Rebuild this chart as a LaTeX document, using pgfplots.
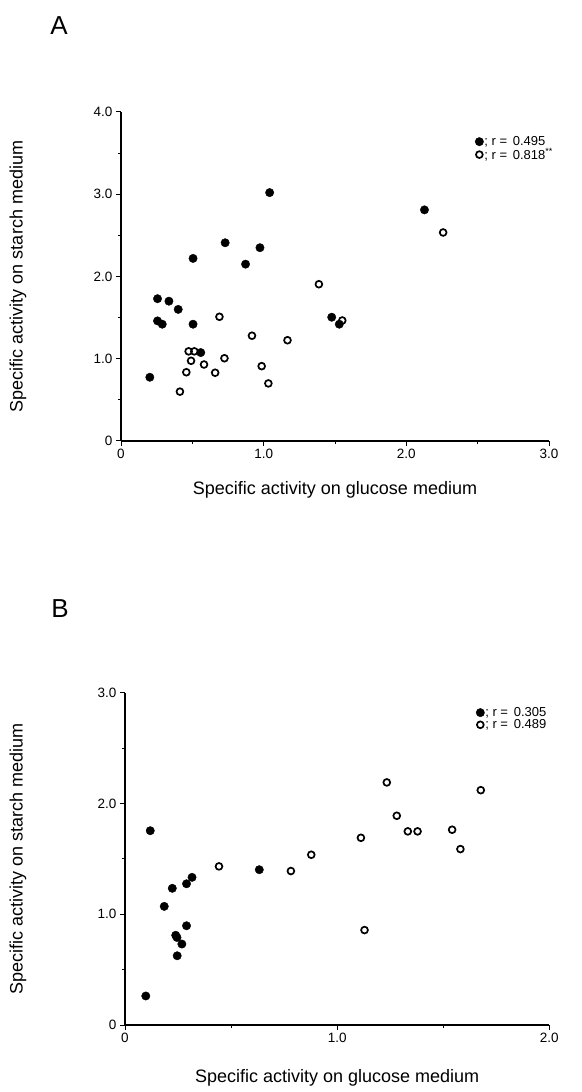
\documentclass[border=0pt]{standalone}
\usepackage{fontspec}
\setmainfont{Liberation Sans}
\usepackage{pgfplots}
\pgfplotsset{compat=1.18}

\pgfplotsset{
  panel/.style={
    scale only axis,
    axis x line=bottom, axis y line=left,
    axis line style={-, line width=1.2pt},
    tick align=outside,
    major tick length=5pt, minor tick length=3pt,
    every tick/.style={black, line width=1pt},
    minor tick num=1,
    xmin=0, ymin=0,
    tick label style={font=\fontsize{13.5}{13.5}\selectfont},
    label style={font=\fontsize{18}{18}\selectfont},
    /pgf/number format/assume math mode=true,
    clip=false,
    legend style={draw=none, fill=none, anchor=north west,
      font=\fontsize{13}{13}\selectfont, row sep=0pt,
      nodes={inner sep=0.8pt}},
    legend cell align=left,
  },
  solidpt/.style={only marks, mark=*, mark size=4.2pt,
    mark options={fill=black, draw=black}},
  openpt/.style={only marks, mark=o, mark size=3.4pt,
    mark options={line width=1.7pt, fill=white}},
}

\begin{document}
\begin{tikzpicture}
\useasboundingbox (0,0) rectangle (581pt,1092pt);

\node[font=\fontsize{26}{26}\selectfont] at (59pt,1066pt) {A};
\node[font=\fontsize{26}{26}\selectfont] at (60pt,483pt) {B};

% panel A
\begin{axis}[panel,
  at={(121pt,651pt)}, anchor=south west,
  width=428pt, height=329pt,
  xmax=3, ymax=4,
  xtick={0,1,2,3}, xticklabels={0,1.0,2.0,3.0},
  ytick={0,1,2,3,4}, yticklabels={0,1.0,2.0,3.0,4.0},
  xlabel={Specific activity on glucose medium},
  ylabel={Specific activity on starch medium},
  xlabel style={at={(axis description cs:0.5,-0.149)}, anchor=center},
  ylabel style={at={(axis description cs:-0.241,0.5)}, anchor=center, rotate=0},
  legend style={at={(axis description cs:0.82,0.935)}},
]
\addplot[solidpt] coordinates {
  (1.042,3.02) (0.730,2.41) (0.974,2.35) (0.505,2.22) (0.873,2.15)
  (0.256,1.73) (0.336,1.70) (0.401,1.60) (0.256,1.46) (0.289,1.42)
  (0.505,1.42) (0.559,1.075) (0.202,0.775) (2.127,2.81) (1.477,1.505)
  (1.530,1.42)
};
\addlegendentry{; r = \,0.495}
\addplot[openpt] coordinates {
  (0.690,1.51) (0.918,1.28) (1.167,1.225) (0.474,1.09) (0.514,1.09)
  (0.491,0.975) (0.725,1.006) (0.582,0.93) (0.986,0.91) (0.458,0.836)
  (0.660,0.83) (1.033,0.70) (0.413,0.60) (1.387,1.906) (1.551,1.465)
  (2.258,2.535)
};
\addlegendentry{; r = \,0.818\textsuperscript{**}}
\end{axis}

% panel B
\begin{axis}[panel,
  at={(125pt,67pt)}, anchor=south west,
  width=424.3pt, height=332.3pt,
  xmax=2, ymax=3,
  xtick={0,1,2}, xticklabels={0,1.0,2.0},
  ytick={0,1,2,3}, yticklabels={0,1.0,2.0,3.0},
  xlabel={Specific activity on glucose medium},
  ylabel={Specific activity on starch medium},
  xlabel style={at={(axis description cs:0.5,-0.159)}, anchor=center},
  ylabel style={at={(axis description cs:-0.252,0.5)}, anchor=center, rotate=0},
  legend style={at={(axis description cs:0.82,0.965)}},
]
\addplot[solidpt] coordinates {
  (0.119,1.754) (0.223,1.234) (0.185,1.071) (0.290,1.275) (0.316,1.333)
  (0.290,0.896) (0.239,0.81) (0.245,0.79) (0.268,0.731) (0.246,0.625)
  (0.098,0.262) (0.633,1.402)
};
\addlegendentry{; r = \,0.305}
\addplot[openpt] coordinates {
  (0.443,1.432) (0.782,1.39) (0.878,1.537) (1.112,1.69) (1.129,0.857)
  (1.234,2.19) (1.281,1.889) (1.333,1.748) (1.379,1.748) (1.542,1.763)
  (1.581,1.588) (1.677,2.12)
};
\addlegendentry{; r = \,0.489}
\end{axis}
\end{tikzpicture}
\end{document}
